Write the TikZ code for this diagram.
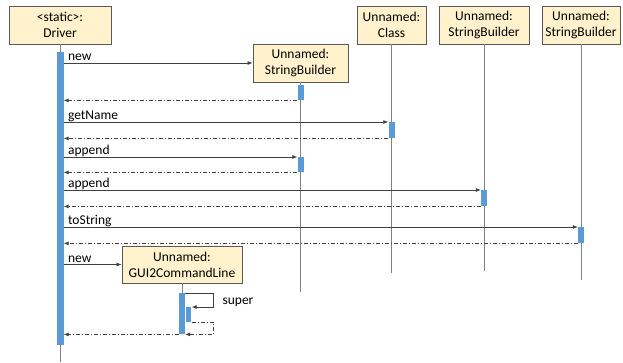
\documentclass[tikz,border=0pt]{standalone}
\usepackage{fontspec}
\setmainfont{Carlito}
\usetikzlibrary{arrows.meta}
\definecolor{objfill}{HTML}{FFF2CC}
\definecolor{barblue}{HTML}{5B9BD5}

\begin{document}
\begin{tikzpicture}[x=1pt, y=-1pt,
    font=\fontsize{13.5}{16}\selectfont,
    obj/.style={draw=black!65, line width=0.8pt, fill=objfill, align=center, minimum height=38pt, inner sep=0pt},
    life/.style={draw=black!50, line width=0.8pt},
    bar/.style={fill=barblue, minimum width=6pt, inner sep=0pt, anchor=north},
    msg/.style={draw=black!75, line width=0.7pt, -{Latex[length=5pt,width=4pt]}},
    ret/.style={msg, dash pattern=on 4pt off 2pt on 1pt off 2pt},
    lbl/.style={pos=0, anchor=base west, xshift=4pt, yshift=2.5pt, inner sep=0pt}]
    \useasboundingbox (0,0) rectangle (623,362);

    \node[obj, minimum width=102pt] (drv) at (60,25) {<static>:\\Driver};
    \node[obj, minimum width=95pt] (sb1) at (300.5,63) {Unnamed:\\StringBuilder};
    \node[obj, minimum width=69pt] (cls) at (391.5,25) {Unnamed:\\Class};
    \node[obj, minimum width=90pt] (sb2) at (484,25) {Unnamed:\\StringBuilder};
    \node[obj, minimum width=78pt] (sb3) at (581,25) {Unnamed:\\StringBuilder};
    \node[obj, minimum width=120pt, minimum height=37pt] (gui) at (182,264.5) {Unnamed:\\GUI2CommandLine};

    \draw[life] (drv.south) -- (drv.south |- 0,362);
    \draw[life] (sb1.south) -- (sb1.south |- 0,292);
    \draw[life] (cls.south) -- (cls.south |- 0,273);
    \draw[life] (sb2.south) -- (sb2.south |- 0,271);
    \draw[life] (sb3.south) -- (sb3.south |- 0,280);
    \draw[life] (gui.south) -- (gui.south |- 0,293);

    \node[bar, minimum width=7pt, minimum height=293pt] (drvbar) at (drv.south |- 0,52) {};
    \node[bar, minimum height=15pt] (sb1bar) at (sb1.south |- 0,85) {};
    \node[bar, minimum height=16pt] (clsbar) at (cls.south |- 0,122) {};
    \node[bar, minimum height=15pt] (sb1bar2) at (sb1.south |- 0,157) {};
    \node[bar, minimum height=16pt] (sb2bar) at (sb2.south |- 0,190) {};
    \node[bar, minimum height=16pt] (sb3bar) at (sb3.south |- 0,227) {};
    \node[bar, minimum height=41pt] (guibar) at (gui.south |- 0,293) {};
    \node[bar, minimum width=5pt, minimum height=15pt, anchor=north west] (guibar2) at ([xshift=1pt, yshift=-14pt]guibar.north east) {};

    \draw[msg] (drvbar.east |- sb1.west) -- node[lbl] {new} (sb1.west);
    \draw[ret] (sb1bar.south west) -- (drvbar.east |- sb1bar.south);
    \draw[msg] (drvbar.east |- clsbar.north) -- node[lbl] {getName} (clsbar.north west);
    \draw[ret] (clsbar.south west) -- (drvbar.east |- clsbar.south);
    \draw[msg] (drvbar.east |- sb1bar2.north) -- node[lbl] {append} (sb1bar2.north west);
    \draw[ret] (sb1bar2.south west) -- (drvbar.east |- sb1bar2.south);
    \draw[msg] (drvbar.east |- sb2bar.north) -- node[lbl] {append} (sb2bar.north west);
    \draw[ret] (sb2bar.south west) -- (drvbar.east |- sb2bar.south);
    \draw[msg] (drvbar.east |- sb3bar.north) -- node[lbl] {toString} (sb3bar.north west);
    \draw[ret] (sb3bar.south west) -- (drvbar.east |- sb3bar.south);
    \draw[msg] (drvbar.east |- gui.west) -- node[lbl] {new} (gui.west);

    \draw[msg] (guibar.north east) -- ++(28,0) node[anchor=base west, xshift=9pt, yshift=-11pt, inner sep=0pt] {super} |- (guibar2.north east);
    \draw[ret] (guibar2.south east) -- ++(22,0) |- (guibar.south east);
    \draw[ret] (guibar.south west) -- (drvbar.east |- guibar.south);
\end{tikzpicture}
\end{document}
